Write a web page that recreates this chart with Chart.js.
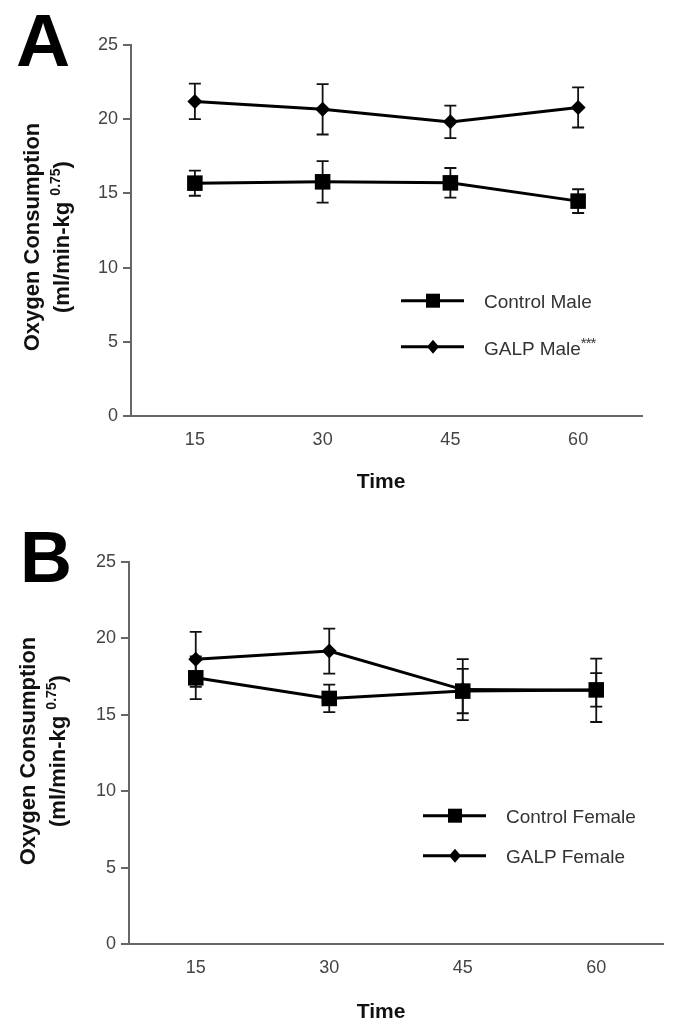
<!DOCTYPE html>
<html>
<head>
<meta charset="utf-8">
<script src="https://cdn.jsdelivr.net/npm/chart.js@4.4.1/dist/chart.umd.min.js"></script>
<style>
  html, body { margin:0; padding:0; background:#fff; }
  body { width:674px; height:1029px; position:relative; overflow:hidden; font-family:"Liberation Sans", Arial, sans-serif; }
  canvas { position:absolute; left:0; }
  .abs { position:absolute; white-space:nowrap; line-height:1; }
  .panel { font-weight:bold; color:#000; }
  .time { font-weight:bold; font-size:21px; color:#111; transform:translateX(-50%); }
  .ytitle { position:absolute; width:280px; height:60px; line-height:30px; text-align:center; font-weight:bold; font-size:22px; color:#111; transform:rotate(-90deg); }
  .ytitle sup { font-size:14px; vertical-align:0; position:relative; top:-9px; }
  .leg { position:absolute; font-size:19px; color:#333; line-height:1; white-space:nowrap; }
  .leg sup { font-size:15px; position:relative; top:-4px; vertical-align:top; letter-spacing:-1px; }
  svg { position:absolute; overflow:visible; }
</style>
</head>
<body>
<canvas id="cA" width="674" height="520" style="top:0;width:674px;height:520px"></canvas>
<canvas id="cB" width="674" height="509" style="top:520px;width:674px;height:509px"></canvas>

<div class="abs panel" style="left:16px;top:3px;font-size:75px;">A</div>
<div class="abs panel" style="left:20px;top:521px;font-size:72px;">B</div>

<div class="ytitle" style="left:-93px;top:207px;">Oxygen Consumption<br>(ml/min-kg <sup>0.75</sup>)</div>
<div class="ytitle" style="left:-97px;top:721px;">Oxygen Consumption<br>(ml/min-kg <sup>0.75</sup>)</div>

<div class="abs time" style="left:381px;top:470px;">Time</div>
<div class="abs time" style="left:381px;top:1000px;">Time</div>

<!-- legend A -->
<svg style="left:401px;top:300px;" width="63" height="1"><line x1="0" y1="0.7" x2="63" y2="0.7" stroke="#000" stroke-width="3"/><rect x="25" y="-6.3" width="14" height="14" fill="#000"/></svg>
<svg style="left:401px;top:346px;" width="63" height="1"><line x1="0" y1="0.7" x2="63" y2="0.7" stroke="#000" stroke-width="3"/><polygon points="32,-6.3 38,0.7 32,7.7 26,0.7" fill="#000"/></svg>
<div class="leg" style="left:484px;top:292px;">Control Male</div>
<div class="leg" style="left:484px;top:339px;">GALP Male<sup>***</sup></div>

<!-- legend B -->
<svg style="left:423px;top:815px;" width="63" height="1"><line x1="0" y1="0.7" x2="63" y2="0.7" stroke="#000" stroke-width="3"/><rect x="25" y="-6.3" width="14" height="14" fill="#000"/></svg>
<svg style="left:423px;top:855px;" width="63" height="1"><line x1="0" y1="0.7" x2="63" y2="0.7" stroke="#000" stroke-width="3"/><polygon points="32,-6.3 38,0.7 32,7.7 26,0.7" fill="#000"/></svg>
<div class="leg" style="left:506px;top:807px;">Control Female</div>
<div class="leg" style="left:506px;top:847px;">GALP Female</div>

<script>
// ---- data ----
const timeLabels = ['15', '30', '45', '60'];
const yTicks = [0, 5, 10, 15, 20, 25];

const controlMale      = [15.69, 15.78, 15.71, 14.48];
const controlMaleErr   = [0.85, 1.40, 1.00, 0.80];
const galpMale         = [21.20, 20.67, 19.82, 20.79];
const galpMaleErr      = [1.20, 1.70, 1.10, 1.35];

const controlFemale    = [17.42, 16.07, 16.55, 16.63];
const controlFemaleErr = [1.40, 0.90, 1.45, 1.10];
const galpFemale       = [18.63, 19.17, 16.65, 16.60];
const galpFemaleErr    = [1.80, 1.47, 2.00, 2.07];

// ---- error bar plugin ----
const errorBars = {
  id: 'errorBars',
  beforeDatasetsDraw(chart, args, opts) {
    const {ctx, scales: {y}} = chart;
    (opts.errors || []).forEach((errs, i) => {
      const meta = chart.getDatasetMeta(i);
      const vals = chart.data.datasets[i].data;
      errs.forEach((e, j) => {
        const px = meta.data[j].x;
        const top = y.getPixelForValue(vals[j] + e);
        const bot = y.getPixelForValue(vals[j] - e);
        ctx.save();
        ctx.strokeStyle = '#111';
        ctx.lineWidth = 1.8;
        ctx.beginPath();
        ctx.moveTo(px, top); ctx.lineTo(px, bot);
        ctx.moveTo(px - 6, top); ctx.lineTo(px + 6, top);
        ctx.moveTo(px - 6, bot); ctx.lineTo(px + 6, bot);
        ctx.stroke();
        ctx.restore();
      });
    });
  }
};

function makeChart(id, sets, errs, geom) {
  const ctx = document.getElementById(id).getContext('2d');
  return new Chart(ctx, {
    type: 'line',
    data: {
      labels: timeLabels,
      datasets: [
        { label: sets[0].label, data: sets[0].data, pointStyle: 'rect', pointRadius: 11, pointHoverRadius: 11,
          borderColor: '#000', backgroundColor: '#000', pointBackgroundColor: '#000', pointBorderWidth: 0,
          borderWidth: 3, tension: 0, fill: false },
        { label: sets[1].label, data: sets[1].data, pointStyle: 'rectRot', pointRadius: 7.5, pointHoverRadius: 7.5,
          borderColor: '#000', backgroundColor: '#000', pointBackgroundColor: '#000', pointBorderWidth: 0,
          borderWidth: 3, tension: 0, fill: false }
      ]
    },
    options: {
      responsive: false,
      animation: false,
      events: [],
      layout: { padding: { left: 0, top: geom.top, right: geom.right, bottom: 0 } },
      plugins: {
        legend: { display: false },
        tooltip: { enabled: false },
        errorBars: { errors: errs }
      },
      scales: {
        x: {
          type: 'category',
          offset: true,
          afterFit(s) { s.height = geom.xh; },
          grid: { display: true, drawOnChartArea: false, drawTicks: false },
          border: { display: true, color: '#666', width: 2 },
          ticks: { padding: 13, color: '#444', font: { family: 'Liberation Sans', size: 18 } }
        },
        y: {
          min: 0, max: 25,
          afterFit(s) { s.width = geom.yw; },
          afterBuildTicks(s) { s.ticks = yTicks.map(v => ({ value: v })); },
          grid: { display: true, drawOnChartArea: false, drawTicks: true, tickLength: 8, color: '#666', lineWidth: 2 },
          border: { display: true, color: '#666', width: 2 },
          ticks: { padding: 5, color: '#444', font: { family: 'Liberation Sans', size: 18 } }
        }
      }
    },
    plugins: [errorBars]
  });
}

makeChart('cA',
  [{ label: 'Control Male', data: controlMale }, { label: 'GALP Male', data: galpMale }],
  [controlMaleErr, galpMaleErr],
  { top: 45, right: 32, xh: 104, yw: 131 });

makeChart('cB',
  [{ label: 'Control Female', data: controlFemale }, { label: 'GALP Female', data: galpFemale }],
  [controlFemaleErr, galpFemaleErr],
  { top: 42, right: 11, xh: 85, yw: 129 });
</script>
</body>
</html>
